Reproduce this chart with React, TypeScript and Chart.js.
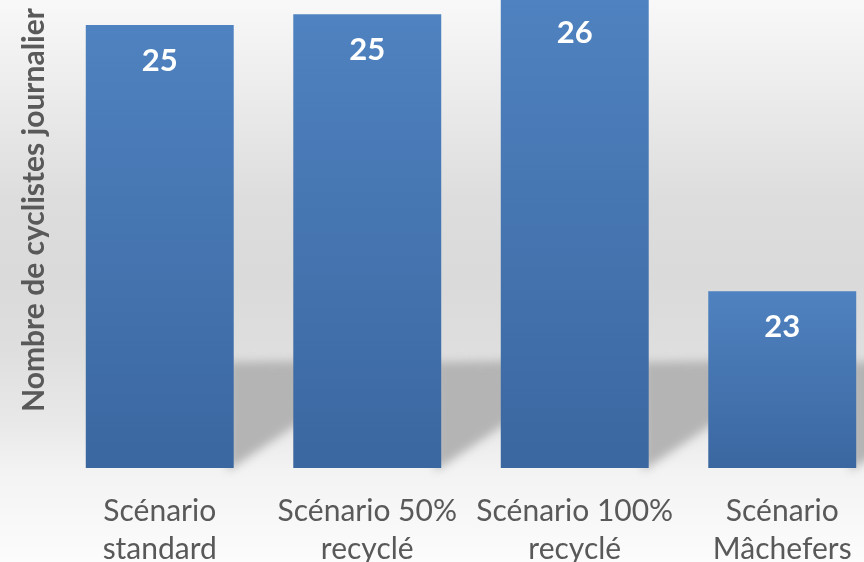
import React, { useEffect, useRef } from "react";
import { Chart, registerables } from "chart.js";

Chart.register(...registerables);

const categories: string[][] = [
  ["Scénario", "standard"],
  ["Scénario 50%", "recyclé"],
  ["Scénario 100%", "recyclé"],
  ["Scénario", "Mâchefers"],
];
const values: number[] = [25.3, 25.39, 25.53, 23.1];
const yMin = 21.64;
const yMax = 25.54;
const yTitle = "Nombre de cyclistes journalier";

const W = 886;
const H = 566;
const TOP_OFFSET = -4;

const bgPlugin = {
  id: "bg",
  beforeDraw(chart: any) {
    const ctx = chart.ctx;
    const g = ctx.createLinearGradient(0, 0, 0, H);
    g.addColorStop(0, "#f9f9f9");
    g.addColorStop(0.14, "#eeeeee");
    g.addColorStop(0.36, "#dddddd");
    g.addColorStop(0.5, "#dadada");
    g.addColorStop(0.62, "#dedede");
    g.addColorStop(0.76, "#e9e9e9");
    g.addColorStop(0.84, "#f3f3f3");
    g.addColorStop(1, "#fcfcfc");
    ctx.save();
    ctx.fillStyle = g;
    ctx.fillRect(0, 0, chart.width, chart.height);
    ctx.restore();
  },
};

const shadowPlugin = {
  id: "barShadow",
  beforeDatasetsDraw(chart: any) {
    const ctx = chart.ctx;
    const meta = chart.getDatasetMeta(0);
    const base = chart.scales.y.getBasePixel();
    ctx.save();
    ctx.filter = "blur(5px)";
    ctx.fillStyle = "#b4b4b4";
    meta.data.forEach((bar: any) => {
      const xR = bar.x + bar.width / 2;
      const top = base - 106;
      ctx.beginPath();
      ctx.moveTo(xR - 6, top);
      ctx.lineTo(xR + 130, top - 2);
      ctx.lineTo(xR + 130, base - 0.65 * 136);
      ctx.lineTo(xR - 6, base + 3);
      ctx.closePath();
      ctx.fill();
    });
    ctx.restore();
  },
};

const labelPlugin = {
  id: "valueLabels",
  afterDatasetsDraw(chart: any) {
    const ctx = chart.ctx;
    const meta = chart.getDatasetMeta(0);
    ctx.save();
    ctx.fillStyle = "#ffffff";
    ctx.font = "bold 31px Lato";
    ctx.textAlign = "center";
    ctx.textBaseline = "middle";
    meta.data.forEach((bar: any, i: number) => {
      ctx.fillText(String(Math.round(values[i])), bar.x, bar.y + 36);
    });
    ctx.restore();
  },
};

const titlePlugin = {
  id: "yTitle",
  afterDraw(chart: any) {
    const ctx = chart.ctx;
    ctx.save();
    ctx.translate(44, 210 - TOP_OFFSET);
    ctx.rotate(-Math.PI / 2);
    ctx.fillStyle = "#595959";
    ctx.font = "bold 30px Lato";
    ctx.textAlign = "center";
    ctx.textBaseline = "alphabetic";
    ctx.fillText(yTitle, 0, 0);
    ctx.restore();
  },
};

export default function App() {
  const ref = useRef<HTMLCanvasElement | null>(null);
  useEffect(() => {
    if (!ref.current) return;
    const chart = new Chart(ref.current, {
      type: "bar",
      data: {
        labels: categories,
        datasets: [
          {
            data: values,
            backgroundColor: (c: any) => {
              const ch = c.chart;
              if (!ch.chartArea || c.type !== "data") return "#4677b4";
              const ys = ch.scales.y;
              const top = ys.getPixelForValue(c.raw);
              const bottom = ys.getBasePixel();
              const g = ch.ctx.createLinearGradient(0, top, 0, bottom);
              g.addColorStop(0, "#4f82c0");
              g.addColorStop(1, "#3b67a0");
              return g;
            },
            borderWidth: 0,
            barPercentage: 0.713,
            categoryPercentage: 1,
          },
        ],
      },
      options: {
        responsive: false,
        devicePixelRatio: 1,
        animation: false,
        layout: { padding: { left: 56, right: 0, top: 0, bottom: 0 } },
        plugins: {
          legend: { display: false },
          tooltip: { enabled: false },
          title: { display: false },
        },
        scales: {
          x: {
            grid: { display: false },
            border: { display: false },
            ticks: {
              color: "#595959",
              font: { family: "Lato", size: 30, lineHeight: "38px" },
              padding: 16,
              maxRotation: 0,
              autoSkip: false,
            },
            afterFit: (s: any) => {
              s.height = 94;
            },
          },
          y: {
            display: false,
            min: yMin,
            max: yMax,
          },
        },
      },
      plugins: [bgPlugin, shadowPlugin, labelPlugin, titlePlugin],
    });
    return () => chart.destroy();
  }, []);
  return (
    <div style={{ position: "fixed", left: 0, top: TOP_OFFSET, width: W, height: H }}>
      <canvas ref={ref} width={W} height={H} style={{ display: "block" }} />
    </div>
  );
}
